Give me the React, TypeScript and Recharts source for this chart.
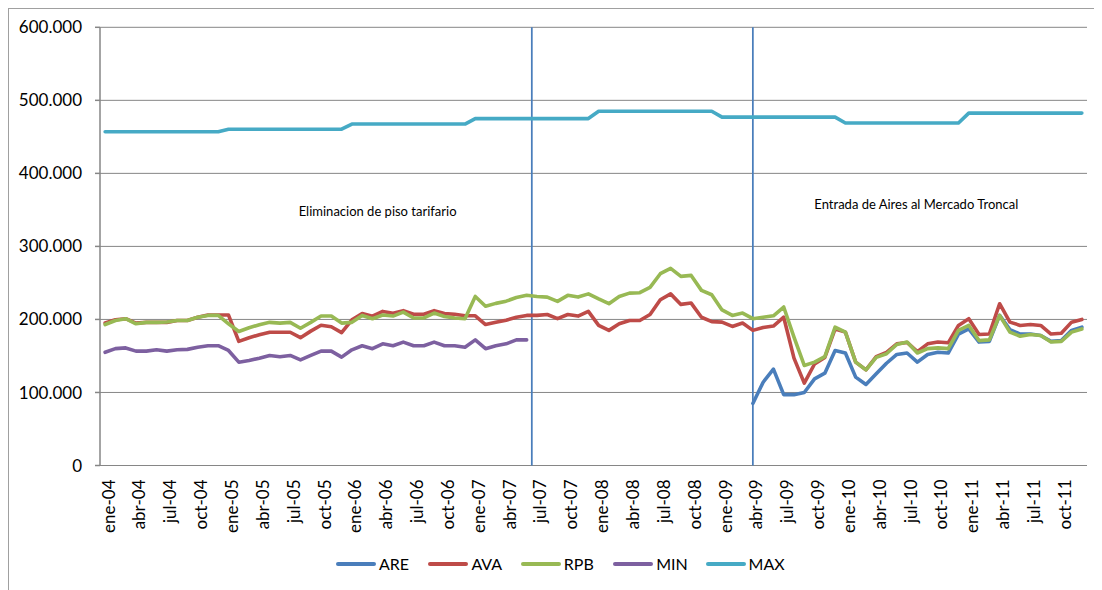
import React from 'react';
import {
  LineChart,
  Line,
  XAxis,
  YAxis,
  CartesianGrid,
  ReferenceLine,
  ReferenceDot,
  Legend,
} from 'recharts';

const MONTHS = ['ene', 'feb', 'mar', 'abr', 'may', 'jun', 'jul', 'ago', 'sep', 'oct', 'nov', 'dic'];
const YEARS = ['04', '05', '06', '07', '08', '09', '10', '11'];
const CATEGORIES = YEARS.flatMap((y) => MONTHS.map((m) => `${m}-${y}`));

// values in thousands (axis shows 600.000 = 600 thousand)
const ARE_START = 63; // abr-09
const ARE = [
  85, 114, 132, 97, 97, 100, 118.7, 126.4, 157.5, 154, 121, 111, 125.5, 140, 152, 154, 141.5,
  152, 155, 154, 180, 187, 169, 170, 205.5, 186, 180, 180, 178, 170, 171, 185, 189.5,
];

const AVA = [
  195, 199.5, 201, 195, 196, 196, 196, 198.5, 198.5, 203, 206, 206,
  206, 170, 175, 179, 182.5, 182.5, 182.5, 175, 184, 192, 190, 182,
  199.5, 208, 204.5, 211, 208.5, 212, 207, 207, 212, 208, 207, 205,
  205, 193, 196, 199, 203, 205.5, 205.5, 206.8, 201, 206.8, 204.6, 211,
  191.8, 185, 194, 198.6, 198.6, 206.8, 227, 235, 220.6, 222.4, 203, 197,
  196.3, 190.4, 195, 185, 189, 191, 203, 147, 112.7, 139, 148, 187,
  182.6, 141.5, 131, 149, 155, 166.6, 168.5, 156, 166.6, 169, 168, 191.8,
  201, 179.4, 180, 221.5, 196.3, 191.8, 193, 191.8, 180, 181, 196.3, 200,
];

const RPB = [
  193, 198.6, 201, 194, 196, 196, 196.5, 198.6, 198.6, 203, 205.5, 205.5,
  194, 183.5, 188.6, 192.7, 196, 195, 196, 188, 196, 204.6, 204.6, 195,
  196, 205.5, 201, 206, 204.6, 210, 202, 202, 208.7, 204, 202, 201,
  231.5, 218, 222, 225, 230, 233, 231.5, 230.6, 224.7, 233, 230.6, 235,
  228, 221.5, 231.5, 236, 236.6, 244, 262.6, 270, 259, 260.3, 239.8, 233.8,
  213, 205.5, 208.7, 201, 203, 205, 217, 175.8, 137, 141.5, 149, 189.5,
  182.6, 141.5, 131, 148, 153, 165.7, 169, 154, 160, 161, 160, 185,
  191.8, 171, 172, 205.5, 182.6, 177, 179.4, 178, 169, 170, 182.6, 187,
];

const MIN = [
  155, 160, 161, 156.6, 156.6, 158.4, 156.6, 158.4, 159, 162, 164, 164,
  157.5, 141.5, 143.8, 147, 150.7, 149, 150.7, 144.7, 150.7, 156.6, 156.6, 148.4,
  158.4, 164, 160, 166.6, 164, 169, 164, 164, 169, 164, 164, 162,
  172, 160, 164, 166.6, 172, 172,
];

const MAX = [
  457, 457, 457, 457, 457, 457, 457, 457, 457, 457, 457, 457,
  460.5, 460.5, 460.5, 460.5, 460.5, 460.5, 460.5, 460.5, 460.5, 460.5, 460.5, 460.5,
  467.5, 467.5, 467.5, 467.5, 467.5, 467.5, 467.5, 467.5, 467.5, 467.5, 467.5, 467.5,
  475, 475, 475, 475, 475, 475, 475, 475, 475, 475, 475, 475,
  485, 485, 485, 485, 485, 485, 485, 485, 485, 485, 485, 485,
  477, 477, 477, 477, 477, 477, 477, 477, 477, 477, 477, 477,
  469, 469, 469, 469, 469, 469, 469, 469, 469, 469, 469, 469,
  482.5, 482.5, 482.5, 482.5, 482.5, 482.5, 482.5, 482.5, 482.5, 482.5, 482.5, 482.5,
];

const Y_TICKS = [0, 100, 200, 300, 400, 500, 600];
const TICK_STEP = 3;
const MARK_TICKS = Array.from({ length: CATEGORIES.length / TICK_STEP + 1 }, (_, k) => k * TICK_STEP);
const LABEL_TICKS = CATEGORIES.map((_, i) => i).filter((i) => i % TICK_STEP === 0).map((i) => i + 0.5);

const EVENT_LINES = [42, 63.5];
const ANNOTATIONS = [
  { x: 27, y: 342, text: 'Eliminacion de piso tarifario' },
  { x: 79.4, y: 351, text: 'Entrada de Aires al Mercado Troncal' },
];

const SERIES = [
  { key: 'ARE', color: '#4A7EBB' },
  { key: 'AVA', color: '#BE4B48' },
  { key: 'RPB', color: '#98B954' },
  { key: 'MIN', color: '#7D60A0' },
  { key: 'MAX', color: '#46AAC5' },
];

const data = CATEGORIES.map((cat, i) => ({
  x: i + 0.5,
  cat,
  ARE: i >= ARE_START ? ARE[i - ARE_START] : null,
  AVA: AVA[i],
  RPB: RPB[i],
  MIN: i < MIN.length ? MIN[i] : null,
  MAX: MAX[i],
}));

const FONT = 'Lato, "Open Sans", sans-serif';
const AXIS_COLOR = '#868686';

const MonthTick = (props: any) => {
  const { x, y, payload } = props;
  const label = CATEGORIES[Math.floor(payload.value)];
  return (
    <text
      x={x}
      y={y}
      dy={9.5}
      transform={`rotate(-90 ${x} ${y})`}
      textAnchor="end"
      fontSize={17}
      fontFamily={FONT}
      fill="#000"
    >
      {label}
    </text>
  );
};

const LegendContent = () => (
  <div
    style={{
      display: 'flex',
      alignItems: 'center',
      height: 30,
      paddingLeft: 328,
      fontFamily: FONT,
      fontSize: 16,
      color: '#000',
    }}
  >
    {SERIES.map((s) => (
      <div key={s.key} style={{ width: 92.4, display: 'flex', alignItems: 'center' }}>
        <svg width={40} height={8} style={{ marginRight: 3 }}>
          <line x1={2} y1={4} x2={38} y2={4} stroke={s.color} strokeWidth={4} strokeLinecap="round" />
        </svg>
        <span>{s.key}</span>
      </div>
    ))}
  </div>
);

export default function App() {
  return (
    <div
      style={{
        position: 'relative',
        width: 1100,
        height: 590,
        fontFamily: FONT,
        background: '#fff',
      }}
    >
      <div
        style={{
          position: 'absolute',
          left: -1,
          top: -1,
          width: 1100,
          height: 590,
          borderLeft: '2px solid #a0a0a0',
          borderTop: '2px solid #a0a0a0',
          boxSizing: 'border-box',
          pointerEvents: 'none',
        }}
      />
      <LineChart
        width={1096}
        height={582}
        data={data}
        margin={{ top: 19.3, right: 17, bottom: 11.5, left: 0 }}
      >
        <CartesianGrid
          xAxisId="marks"
          vertical={false}
          stroke={AXIS_COLOR}
          strokeWidth={1}
        />
        <XAxis
          xAxisId="marks"
          type="number"
          dataKey="x"
          domain={[0, 96]}
          allowDataOverflow
          ticks={MARK_TICKS}
          interval={0}
          tick={false}
          tickSize={6}
          height={0}
          axisLine={{ stroke: AXIS_COLOR, strokeWidth: 1.5 }}
          tickLine={{ stroke: AXIS_COLOR, strokeWidth: 1.5 }}
        />
        <XAxis
          xAxisId="labels"
          type="number"
          dataKey="x"
          domain={[0, 96]}
          allowDataOverflow
          ticks={LABEL_TICKS}
          interval={0}
          tick={<MonthTick />}
          tickSize={0}
          tickMargin={14}
          height={83}
          axisLine={false}
          tickLine={false}
        />
        <YAxis
          type="number"
          domain={[0, 600]}
          allowDataOverflow
          ticks={Y_TICKS}
          interval={0}
          width={92}
          tickSize={5}
          tickMargin={13}
          tickFormatter={(v: number) => (v === 0 ? '0' : `${v}.000`)}
          tick={{ fontSize: 17, fill: '#000', fontFamily: FONT }}
          axisLine={{ stroke: AXIS_COLOR, strokeWidth: 1.5 }}
          tickLine={{ stroke: AXIS_COLOR, strokeWidth: 1.5 }}
        />
        {EVENT_LINES.map((x) => (
          <ReferenceLine key={x} xAxisId="marks" x={x} stroke="#4A7EBB" strokeWidth={1.75} />
        ))}
        {ANNOTATIONS.map((a) => (
          <ReferenceDot
            key={a.text}
            xAxisId="marks"
            x={a.x}
            y={a.y}
            r={1}
            shape={(p: any) => (
              <text
                x={p.cx}
                y={p.cy}
                textAnchor="middle"
                fontSize={13}
                fontFamily={FONT}
                fill="#000"
              >
                {a.text}
              </text>
            )}
          />
        ))}
        {SERIES.map((s) => (
          <Line
            key={s.key}
            xAxisId="marks"
            dataKey={s.key}
            type="linear"
            stroke={s.color}
            strokeWidth={3.6}
            strokeLinejoin="round"
            strokeLinecap="round"
            dot={false}
            activeDot={false}
            isAnimationActive={false}
          />
        ))}
        <Legend verticalAlign="bottom" height={30} content={() => <LegendContent />} />
      </LineChart>
    </div>
  );
}
